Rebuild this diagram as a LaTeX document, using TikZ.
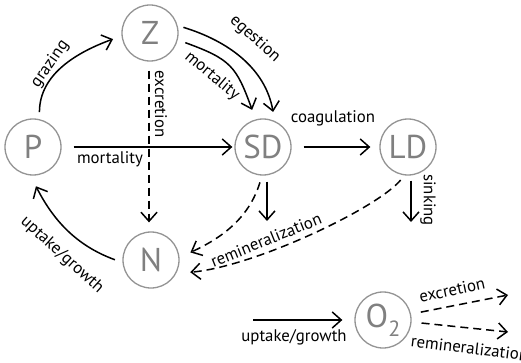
\documentclass[tikz,border=0pt]{standalone}
\usepackage{fontspec}
\setmainfont{PT Sans}
\usetikzlibrary{arrows.meta}
\begin{document}
\begin{tikzpicture}[x=1pt,y=1pt,
  st/.style={circle,draw=black!42,line width=1.3pt,minimum size=56pt,inner sep=0pt,text=black!50,font=\fontsize{33}{33}\selectfont},
  arr/.style={line width=1.5pt,-{Straight Barb[length=9pt,width=16pt,line width=1.5pt]}},
  dsh/.style={arr,dash pattern=on 8pt off 5pt},
  lbl/.style={font=\fontsize{16.8}{17}\selectfont,inner sep=0pt}]
\useasboundingbox (0,0) rectangle (521,362);
\node[st] (P) at (33,215) {P};
\node[st] (Z) at (150,329) {Z};
\node[st] (SD) at (263,215) {SD};
\node[st] (LD) at (408,215) {LD};
\node[st] (N) at (151,102) {N};
\node[st] (O) at (383,42) {O\raisebox{-9pt}{\fontsize{22}{22}\selectfont 2}};
\coordinate (sdsink) at (267,141);
\coordinate (ldsink) at (411,140);
\coordinate (ustart) at (253,42);
\coordinate (oex) at (508,67);
\coordinate (orem) at (508,30);
% grazing
\draw[arr,shorten <=7pt,shorten >=9pt] (P.77) to[out=90,in=200] (Z.186);
\node[lbl,rotate=55] (lgraz) at (50,298) {grazing};
% excretion Z->N
\draw[dsh,shorten <=9pt,shorten >=9pt] ([xshift=-1pt]Z.south) -- ([xshift=-2pt]N.north);
\node[lbl,rotate=-90] (lexc) at (161,258) {excretion};
% P->SD mortality
\draw[arr,shorten <=12pt,shorten >=2pt] (P.east) -- (SD.west);
\node[lbl] (lmort1) at (110,203) {mortality};
% egestion
\draw[arr,shorten <=6pt,shorten >=9pt] (Z.15) to[out=-17,in=100] (SD.66);
\node[lbl,rotate=-42] (legest) at (255,323) {egestion};
% Z->SD mortality
\draw[arr,shorten <=8pt,shorten >=10pt] (Z.-14) to[out=-20,in=110,looseness=1.3] (SD.105);
\node[lbl,rotate=-40] (lmort2) at (212,286) {mortality};
% coagulation
\draw[arr,shorten <=12pt,shorten >=9pt] (SD.east) -- (LD.west);
\node[lbl] (lcoag) at (333,244) {coagulation};
% SD -> N remineralization
\draw[dsh,shorten <=7pt,shorten >=12pt] (SD.-92) to[out=-107,in=25] (N.5);
\draw[arr] ([xshift=4pt,yshift=-6pt]SD.south) -- (sdsink);
% LD -> N
\draw[dsh,shorten <=6pt,shorten >=14pt] (LD.-97) to[out=-130,in=5,out looseness=0.45,in looseness=0.8] (N.-28);
\node[lbl,rotate=22] (lrem) at (266,122) {remineralization};
% sinking
\draw[arr] ([xshift=3pt,yshift=-5pt]LD.south) -- (ldsink);
\node[lbl,rotate=-90] (lsink) at (428,162) {sinking};
% N -> P uptake
\draw[arr,shorten <=8pt,shorten >=12pt] (N.185) to[out=160,in=-63] (P.-95);
\node[lbl,rotate=-42] (lupt) at (62,107) {uptake/growth};
% O2
\draw[arr,shorten >=12pt] (ustart) -- (O.west);
\node[lbl] (lupt2) at (294,25) {uptake/growth};
\draw[dsh,shorten <=10pt] (O.12) -- (oex);
\node[lbl,rotate=12] (lexc2) at (452,72) {excretion};
\draw[dsh,shorten <=10pt] (O.-4) -- (orem);
\node[lbl,rotate=-7,anchor=west] (lrem2) at (411,21) {remineralization};
\end{tikzpicture}
\end{document}
